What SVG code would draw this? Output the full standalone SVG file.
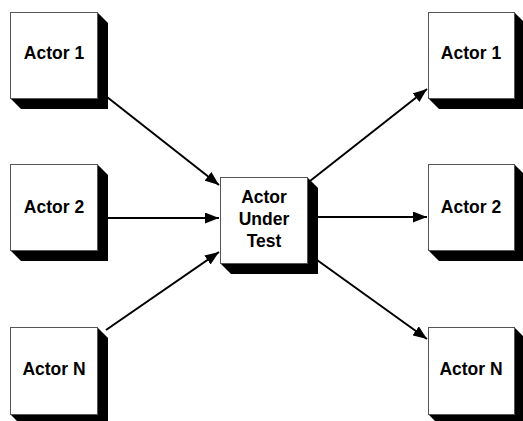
<svg xmlns="http://www.w3.org/2000/svg" width="523" height="421" viewBox="0 0 523 421">
<style>
.shadow{fill:#000;}
.face{fill:#fff;stroke:#555;stroke-width:1;}
.lbl{font-family:"Liberation Sans",Arial,sans-serif;font-weight:bold;font-size:17.5px;fill:#000;text-anchor:middle;}
.conn{stroke:#000;stroke-width:2;fill:none;marker-end:url(#ah);}
</style>
<defs>
<marker id="ah" markerUnits="userSpaceOnUse" markerWidth="15" markerHeight="11" refX="14" refY="5.5" orient="auto">
<path d="M0,0 L14,5.5 L0,11 z" fill="#000"/>
</marker>
</defs>
<rect width="523" height="421" fill="#fff"/>
<g id="connectors">
<line class="conn" x1="107" y1="97" x2="219" y2="185"/>
<line class="conn" x1="108" y1="218" x2="219" y2="218"/>
<line class="conn" x1="106" y1="330" x2="219" y2="252"/>
<line class="conn" x1="310" y1="181" x2="427" y2="89"/>
<line class="conn" x1="317" y1="217" x2="427" y2="217"/>
<line class="conn" x1="317" y1="260" x2="427" y2="339"/>
</g>
<g id="left-actor-1">
<polygon class="shadow" points="97,12 108,23 108,109 21,109 10,98"/>
<rect class="face" x="10.5" y="12.5" width="87" height="86"/>
<text class="lbl" x="54" y="59">Actor 1</text>
</g>
<g id="left-actor-2">
<polygon class="shadow" points="97,164 108,175 108,261 21,261 10,250"/>
<rect class="face" x="10.5" y="164.5" width="87" height="86"/>
<text class="lbl" x="54" y="213">Actor 2</text>
</g>
<g id="left-actor-n">
<polygon class="shadow" points="97,327 108,338 108,425 21,425 10,414"/>
<rect class="face" x="10.5" y="327.5" width="87" height="87"/>
<text class="lbl" x="54" y="375">Actor N</text>
</g>
<g id="actor-under-test">
<polygon class="shadow" points="307,177 318,188 318,274 231,274 220,263"/>
<rect class="face" x="220.5" y="177.5" width="87" height="86"/>
<text class="lbl" x="264" y="203">Actor</text>
<text class="lbl" x="264" y="225">Under</text>
<text class="lbl" x="264" y="247">Test</text>
</g>
<g id="right-actor-1">
<polygon class="shadow" points="514,12 525,23 525,109 439,109 428,98"/>
<rect class="face" x="428.5" y="12.5" width="86" height="86"/>
<text class="lbl" x="471" y="59">Actor 1</text>
</g>
<g id="right-actor-2">
<polygon class="shadow" points="514,164 525,175 525,261 439,261 428,250"/>
<rect class="face" x="428.5" y="164.5" width="86" height="86"/>
<text class="lbl" x="471" y="213">Actor 2</text>
</g>
<g id="right-actor-n">
<polygon class="shadow" points="514,327 525,338 525,425 439,425 428,414"/>
<rect class="face" x="428.5" y="327.5" width="86" height="87"/>
<text class="lbl" x="471" y="375">Actor N</text>
</g>
</svg>
